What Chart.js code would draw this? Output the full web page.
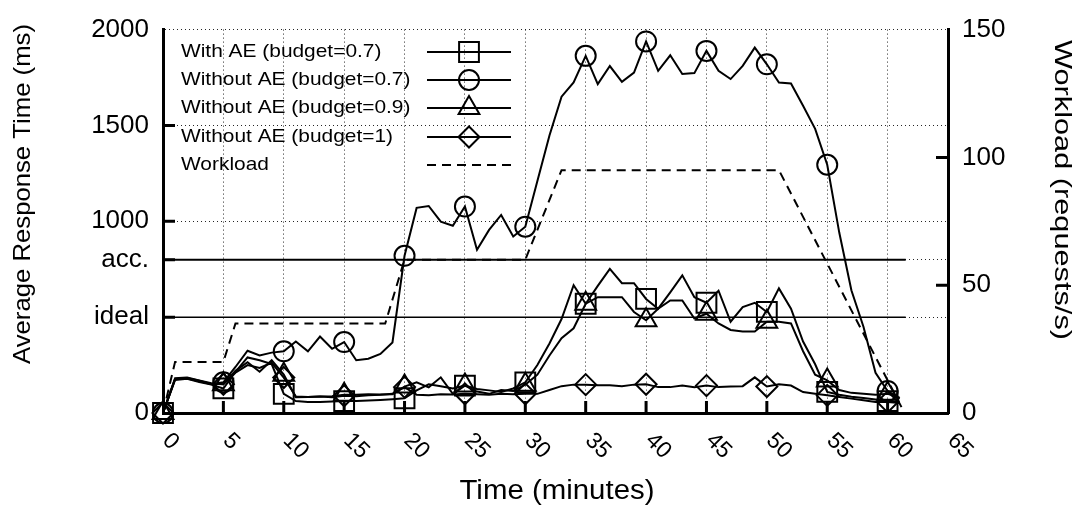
<!DOCTYPE html>
<html lang="en">
<head>
<meta charset="UTF-8">
<script src="https://cdn.jsdelivr.net/npm/chart.js"></script>
<title>Response time and workload</title>
<style>
  html, body { margin: 0; padding: 0; background: #fff; }
  #wrap { width: 1082px; height: 512px; }
</style>
</head>
<body>
<div id="wrap"><canvas id="myChart"></canvas></div>
<script>
// time axis (minutes) shared by the four response time series
const minutes = [0,1,2,3,4,5,6,7,8,9,10,11,12,13,14,15,16,17,18,19,20,21,22,23,24,25,26,27,28,29,30,
  31,32,33,34,35,36,37,38,39,40,41,42,43,44,45,46,47,48,49,50,51,52,53,54,55,56,57,58,59,60,61];

// average response time (ms)
const withAE07 = [0,172,178,162,148,128,215,290,275,255,
  100,62,58,58,60,62,62,65,68,72,
  77,118,150,140,128,143,125,118,110,128,
  160,250,363,490,667,570,663,752,677,677,
  595,544,629,718,604,575,638,476,552,575,
  527,650,544,373,254,110,95,85,78,70,
  62,58];
const withoutAE07 = [0,178,180,165,150,160,240,325,300,315,
  322,373,322,399,335,370,275,283,308,368,
  820,1070,1080,998,977,1077,851,955,1033,921,
  972,1210,1448,1650,1724,1863,1716,1810,1728,1776,
  1938,1785,1866,1768,1773,1889,1785,1742,1811,1906,
  1819,1724,1719,1603,1482,1295,940,640,450,210,
  115,75];
const withoutAE09 = [0,182,185,170,155,150,220,265,215,275,
  200,82,84,86,88,95,95,98,96,98,
  138,160,134,186,100,143,112,100,120,115,
  148,200,300,390,442,570,604,604,604,527,
  484,544,587,587,493,518,467,433,425,425,
  476,476,467,322,200,170,120,105,100,95,
  100,80];
const withoutAE1 = [0,176,182,168,152,150,210,250,235,262,
  185,86,84,86,82,90,88,92,95,100,
  135,95,92,98,96,100,98,95,100,98,
  100,100,120,140,148,148,145,145,140,148,
  150,135,135,143,135,143,135,138,140,186,
  138,150,143,109,100,92,84,75,66,58,
  58,52];

// workload (requests/s), right axis
const workloadMinutes = [0, 1, 5, 6, 18.4, 20, 30, 33, 51, 61.4];
const workloadValues = [0, 20, 20, 35, 35, 60, 60, 95, 95, 0];

// response time targets
const targetSpan = [0, 61.5];
const idealLevel = 500;
const accLevel = 800;

// axis ticks
const timeTicks = [0,5,10,15,20,25,30,35,40,45,50,55,60,65];
const leftTicks = [0, 500, 800, 1000, 1500, 2000];
const leftTickLabels = ['0', 'ideal', 'acc.', '1000', '1500', '2000'];
const rightTicks = [0, 50, 100, 150];

const FONT = "'Liberation Sans', Arial, Helvetica, sans-serif";
Chart.defaults.font.family = FONT;
Chart.defaults.color = '#000';

function pts(xs, ys) { return xs.map((x, i) => ({ x: x, y: ys[i] })); }
function markerEvery5(r) { return ctx => (ctx.raw && ctx.raw.x % 5 === 0 ? r : 0); }

function series(label, ys, style, r) {
  return {
    label: label, data: pts(minutes, ys), yAxisID: 'y',
    borderColor: '#000', borderWidth: 2, tension: 0, clip: false,
    pointStyle: style, pointRadius: markerEvery5(r), pointHoverRadius: markerEvery5(r),
    pointBorderColor: '#000', pointBorderWidth: 2, pointBackgroundColor: 'rgba(0,0,0,0)',
    legendMarker: style, legendRadius: r, inLegend: true
  };
}

const datasets = [
  series('With AE (budget=0.7)', withAE07, 'rect', 14),
  series('Without AE (budget=0.7)', withoutAE07, 'circle', 10),
  series('Without AE (budget=0.9)', withoutAE09, 'triangle', 12),
  series('Without AE (budget=1)', withoutAE1, 'rectRot', 10.5),
  {
    label: 'Workload', data: pts(workloadMinutes, workloadValues), yAxisID: 'y1',
    borderColor: '#000', borderWidth: 2, borderDash: [9, 6], pointRadius: 0, tension: 0,
    inLegend: true
  },
  {
    label: 'acc.', data: pts(targetSpan, [accLevel, accLevel]), yAxisID: 'y',
    borderColor: '#000', borderWidth: 2, pointRadius: 0
  },
  {
    label: 'ideal', data: pts(targetSpan, [idealLevel, idealLevel]), yAxisID: 'y',
    borderColor: '#000', borderWidth: 1.5, pointRadius: 0
  }
];

function drawMarker(ctx, style, x, y, r) {
  ctx.beginPath();
  if (style === 'circle') {
    ctx.arc(x, y, r, 0, Math.PI * 2);
  } else if (style === 'rect') {
    const s = r * Math.SQRT1_2;
    ctx.rect(x - s, y - s, 2 * s, 2 * s);
  } else if (style === 'triangle') {
    ctx.moveTo(x, y - r);
    ctx.lineTo(x + r * Math.sin(Math.PI * 2 / 3), y + r / 2);
    ctx.lineTo(x - r * Math.sin(Math.PI * 2 / 3), y + r / 2);
    ctx.closePath();
  } else if (style === 'rectRot') {
    ctx.moveTo(x - r, y); ctx.lineTo(x, y - r); ctx.lineTo(x + r, y); ctx.lineTo(x, y + r);
    ctx.closePath();
  }
  ctx.stroke();
}

// text squeezed/stretched along its own direction to a given length
function fitText(ctx, text, x, y, angle, size, length) {
  ctx.save();
  ctx.font = size + 'px ' + FONT;
  const w = ctx.measureText(text).width;
  ctx.translate(x, y);
  ctx.rotate(angle);
  ctx.scale(length / w, 1);
  ctx.textAlign = 'center';
  ctx.textBaseline = 'middle';
  ctx.fillText(text, 0, 0);
  ctx.restore();
}

// legend on the plot: text left, sample line with marker right
const legendInPlot = {
  id: 'legendInPlot',
  afterDraw(chart) {
    const ctx = chart.ctx;
    const rows = [52, 80, 108, 137, 165];
    ctx.save();
    ctx.font = '19px ' + FONT;
    ctx.fillStyle = '#000';
    ctx.strokeStyle = '#000';
    ctx.lineWidth = 2;
    ctx.textBaseline = 'middle';
    ctx.textAlign = 'left';
    chart.data.datasets.filter(d => d.inLegend).forEach((d, i) => {
      const y = rows[i];
      ctx.save();
      ctx.translate(181, y);
      ctx.scale(1.1, 1);
      ctx.fillText(d.label, 0, 0);
      ctx.restore();
      ctx.setLineDash(d.borderDash || []);
      ctx.beginPath(); ctx.moveTo(427, y); ctx.lineTo(511, y); ctx.stroke();
      ctx.setLineDash([]);
      if (d.legendMarker) drawMarker(ctx, d.legendMarker, 469, y, d.legendRadius);
    });
    ctx.restore();
  }
};

// ticks pointing into the plot, slanted time labels and axis titles
const axesDecor = {
  id: 'axesDecor',
  afterDraw(chart) {
    const { ctx, chartArea: a, scales } = chart;
    ctx.save();
    ctx.strokeStyle = '#000';
    ctx.lineWidth = 3;
    ctx.beginPath();
    timeTicks.forEach(v => {
      if (v > 0 && v < 65) {
        const px = scales.x.getPixelForValue(v);
        ctx.moveTo(px, a.bottom); ctx.lineTo(px, a.bottom - 12);
      }
    });
    leftTicks.forEach(v => {
      if (v > 0 && v < 2000) {
        const py = scales.y.getPixelForValue(v);
        ctx.moveTo(a.left, py); ctx.lineTo(a.left + 12, py);
      }
    });
    rightTicks.forEach(v => {
      if (v > 0 && v < 150) {
        const py = scales.y1.getPixelForValue(v);
        ctx.moveTo(a.right, py); ctx.lineTo(a.right - 12, py);
      }
    });
    ctx.stroke();

    ctx.fillStyle = '#000';
    ctx.font = '23px ' + FONT;
    ctx.textAlign = 'left';
    ctx.textBaseline = 'middle';
    timeTicks.forEach(v => {
      const px = scales.x.getPixelForValue(v);
      ctx.save();
      ctx.translate(px + 3, a.bottom + 24);
      ctx.rotate(Math.PI / 4);
      ctx.fillText(String(v), 0, 0);
      ctx.restore();
    });

    fitText(ctx, 'Average Response Time (ms)', 23, 194, -Math.PI / 2, 24, 340);
    fitText(ctx, 'Workload (requests/s)', 1062, 190, Math.PI / 2, 24, 300);
    fitText(ctx, 'Time (minutes)', 557, 492, 0, 27, 195);
    ctx.restore();
  }
};

const gridDots = { color: 'rgba(0,0,0,0.85)', lineWidth: 1, drawTicks: false };

new Chart(document.getElementById('myChart'), {
  type: 'line',
  data: { datasets: datasets },
  plugins: [legendInPlot, axesDecor],
  options: {
    responsive: true,
    maintainAspectRatio: false,
    animation: false,
    devicePixelRatio: 1,
    layout: { padding: { top: 22, right: 0, bottom: 0, left: 0 } },
    plugins: { legend: { display: false }, tooltip: { enabled: false } },
    scales: {
      x: {
        type: 'linear', position: 'bottom', min: 0, max: 65,
        afterBuildTicks: s => { s.ticks = timeTicks.map(v => ({ value: v })); },
        afterFit: s => { s.height = 99; },
        ticks: { display: false },
        grid: gridDots,
        border: { display: true, color: '#000', width: 3, dash: [1, 3] }
      },
      y: {
        type: 'linear', position: 'left', min: 0, max: 2000,
        afterBuildTicks: s => { s.ticks = leftTicks.map(v => ({ value: v })); },
        afterFit: s => { s.width = 163; },
        ticks: {
          autoSkip: false, padding: 14, font: { size: 26 }, color: '#000',
          callback: v => leftTickLabels[leftTicks.indexOf(v)]
        },
        grid: gridDots,
        border: { display: true, color: '#000', width: 3, dash: [1, 3] }
      },
      y1: {
        type: 'linear', position: 'right', min: 0, max: 150,
        afterBuildTicks: s => { s.ticks = rightTicks.map(v => ({ value: v })); },
        afterFit: s => { s.width = 134; },
        ticks: { autoSkip: false, padding: 14, font: { size: 26 }, color: '#000' },
        grid: { drawOnChartArea: false, drawTicks: false },
        border: { display: true, color: '#000', width: 3 }
      }
    }
  }
});
</script>
</body>
</html>
